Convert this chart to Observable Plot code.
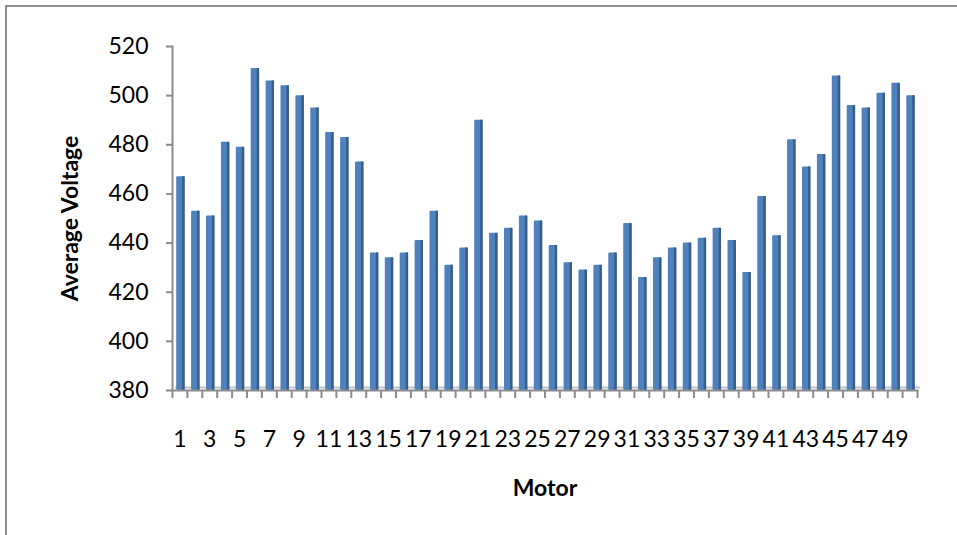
<!DOCTYPE html>
<html>
<head>
<meta charset="utf-8">
<script src="https://cdn.jsdelivr.net/npm/d3@7"></script>
<script src="https://cdn.jsdelivr.net/npm/@observablehq/plot@0.6"></script>
<style>
  body { margin: 0; overflow: hidden; background: #fff; }
  #chart { position: relative; width: 957px; height: 535px; overflow: hidden; }
  #border { position: absolute; left: 5px; top: 5px; width: 1000px; height: 1000px;
            border: 2px solid #8e8e8e; box-sizing: border-box; }
  #chart svg { position: absolute; left: 0; top: 0; }
</style>
</head>
<body>
<div id="chart"><div id="border"></div></div>
<script>
// Motor numbers and their average voltage
const motors = [1, 2, 3, 4, 5, 6, 7, 8, 9, 10, 11, 12, 13, 14, 15, 16, 17, 18, 19, 20,
  21, 22, 23, 24, 25, 26, 27, 28, 29, 30, 31, 32, 33, 34, 35, 36, 37, 38, 39, 40,
  41, 42, 43, 44, 45, 46, 47, 48, 49, 50];
const voltages = [467, 453, 451, 481, 479, 511, 506, 504, 500, 495, 485, 483, 473,
  436, 434, 436, 441, 453, 431, 438, 490, 444, 446, 451, 449, 439, 432, 429, 431, 436,
  448, 426, 434, 438, 440, 442, 446, 441, 428, 459, 443, 482, 471, 476, 508, 496, 495,
  501, 505, 500];

// Axis ticks
const yTicks = [380, 400, 420, 440, 460, 480, 500, 520];
const xTickLabels = [1, 3, 5, 7, 9, 11, 13, 15, 17, 19, 21, 23, 25, 27, 29, 31, 33, 35,
  37, 39, 41, 43, 45, 47, 49];
const yBase = 380;

const data = motors.map((motor, i) => ({ motor, voltage: voltages[i] }));
// category boundaries, where the small x ticks sit
const boundaries = [...motors.map(m => m - 0.5), motors[motors.length - 1] + 0.5];

const axisGray = "#8c8c8c";
const font = "Lato, 'Open Sans', sans-serif";

const barFace = { x1: d => d.motor - 0.5, x2: d => d.motor + 0.5, y1: yBase, y2: "voltage" };

const chart = Plot.plot({
  width: 957,
  height: 535,
  marginLeft: 172,
  marginRight: 40,
  marginTop: 46,
  marginBottom: 145,
  style: { fontFamily: font, background: "transparent", color: "#000" },
  x: { type: "linear", domain: [0.5, 50.5] },
  y: { domain: [380, 520] },
  marks: [
    // back edge of the chart floor
    Plot.ruleY([yBase], { dx: 3, dy: -3, stroke: "#c4c4c4", strokeWidth: 2 }),
    // bars: front face plus a darker side strip
    Plot.rectY(data, { ...barFace, insetLeft: 4.2, insetRight: 2.3, fill: "#4f81bd", rx: 1 }),
    Plot.rectY(data, { ...barFace, insetLeft: 10.2, insetRight: 2.3, fill: "#385d8a" }),
    // floor and value axis lines
    Plot.frame({ anchor: "bottom", stroke: axisGray, strokeWidth: 2 }),
    Plot.frame({ anchor: "left", stroke: axisGray, strokeWidth: 2 }),
    Plot.axisY({ ticks: yTicks, tickSize: 6, tickPadding: 18, fontSize: 23,
      stroke: axisGray, strokeWidth: 2, fill: "#000", label: null }),
    Plot.axisX({ ticks: boundaries, tickSize: 8, stroke: axisGray, strokeWidth: 2,
      fill: "none", label: null }),
    Plot.axisX({ ticks: xTickLabels, tickSize: 0, tickPadding: 40, fontSize: 23,
      fill: "#000", label: null }),
    // axis titles
    Plot.text(["Average Voltage"], { frameAnchor: "left", dx: -102, rotate: -90,
      fontSize: 23, fontWeight: "bold", textAnchor: "middle", lineAnchor: "middle",
      fill: "#000" }),
    Plot.text(["Motor"], { frameAnchor: "bottom", dy: 98, fontSize: 23,
      fontWeight: "bold", textAnchor: "middle", lineAnchor: "middle", fill: "#000" })
  ]
});

document.getElementById("chart").appendChild(chart);
</script>
</body>
</html>
